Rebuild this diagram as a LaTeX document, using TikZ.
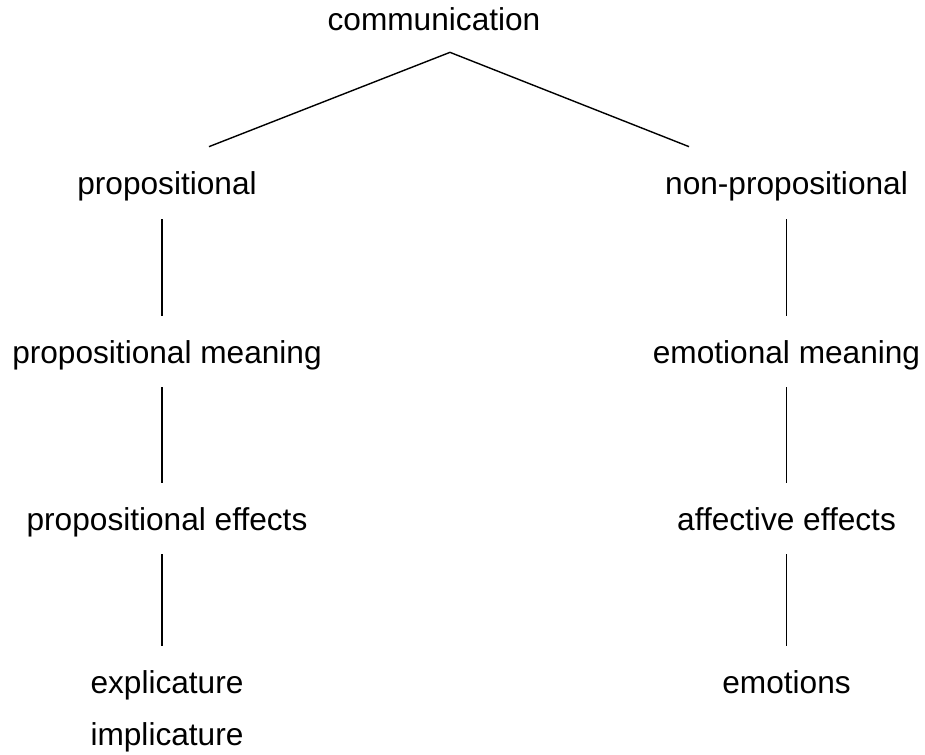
\documentclass[tikz,border=0pt]{standalone}
\usepackage{fontspec}
\setmainfont{Liberation Sans}

\begin{document}
\begin{tikzpicture}[
    word/.style = {anchor = base, inner sep = 0pt, text height = 0.46cm, text depth = 0.14cm,
                   font = \fontsize{18}{22}\selectfont},
    branch/.style = {line width = 0.8pt, shorten < = 0.34cm, shorten > = 0.48cm},
    fork/.style = {line width = 0.8pt}
]
\useasboundingbox (0,0) rectangle (18.5,-15.1);

\node[word] (c0) at (8.68,-0.62) {communication};
\node[word] (p1) at (3.34,-3.9) {propositional};
\node[word] (p2) at (3.34,-7.26) {propositional meaning};
\node[word] (p3) at (3.34,-10.6) {propositional effects};
\node[word] (p4) at (3.34,-13.86) {explicature};
\node[word] (p5) at (3.34,-14.9) {implicature};

\node[word] (n1) at (15.73,-3.9) {non-propositional};
\node[word] (n2) at (15.73,-7.26) {emotional meaning};
\node[word] (n3) at (15.73,-10.6) {affective effects};
\node[word] (n4) at (15.73,-13.86) {emotions};

\coordinate (peak) at ([shift={(0.32,-0.28)}]c0.south);
\draw [fork] ([shift={(0.84,0.5)}]p1.north) -- (peak) -- ([shift={(-1.95,0.5)}]n1.north);

\draw [branch] ([xshift=-0.1cm]p1.south) -- ([xshift=-0.1cm]p2.north);
\draw [branch] ([xshift=-0.1cm]p2.south) -- ([xshift=-0.1cm]p3.north);
\draw [branch] ([xshift=-0.1cm]p3.south) -- ([xshift=-0.1cm]p4.north);
\draw [branch] (n1.south) -- (n2.north);
\draw [branch] (n2.south) -- (n3.north);
\draw [branch] (n3.south) -- (n4.north);
\end{tikzpicture}
\end{document}
